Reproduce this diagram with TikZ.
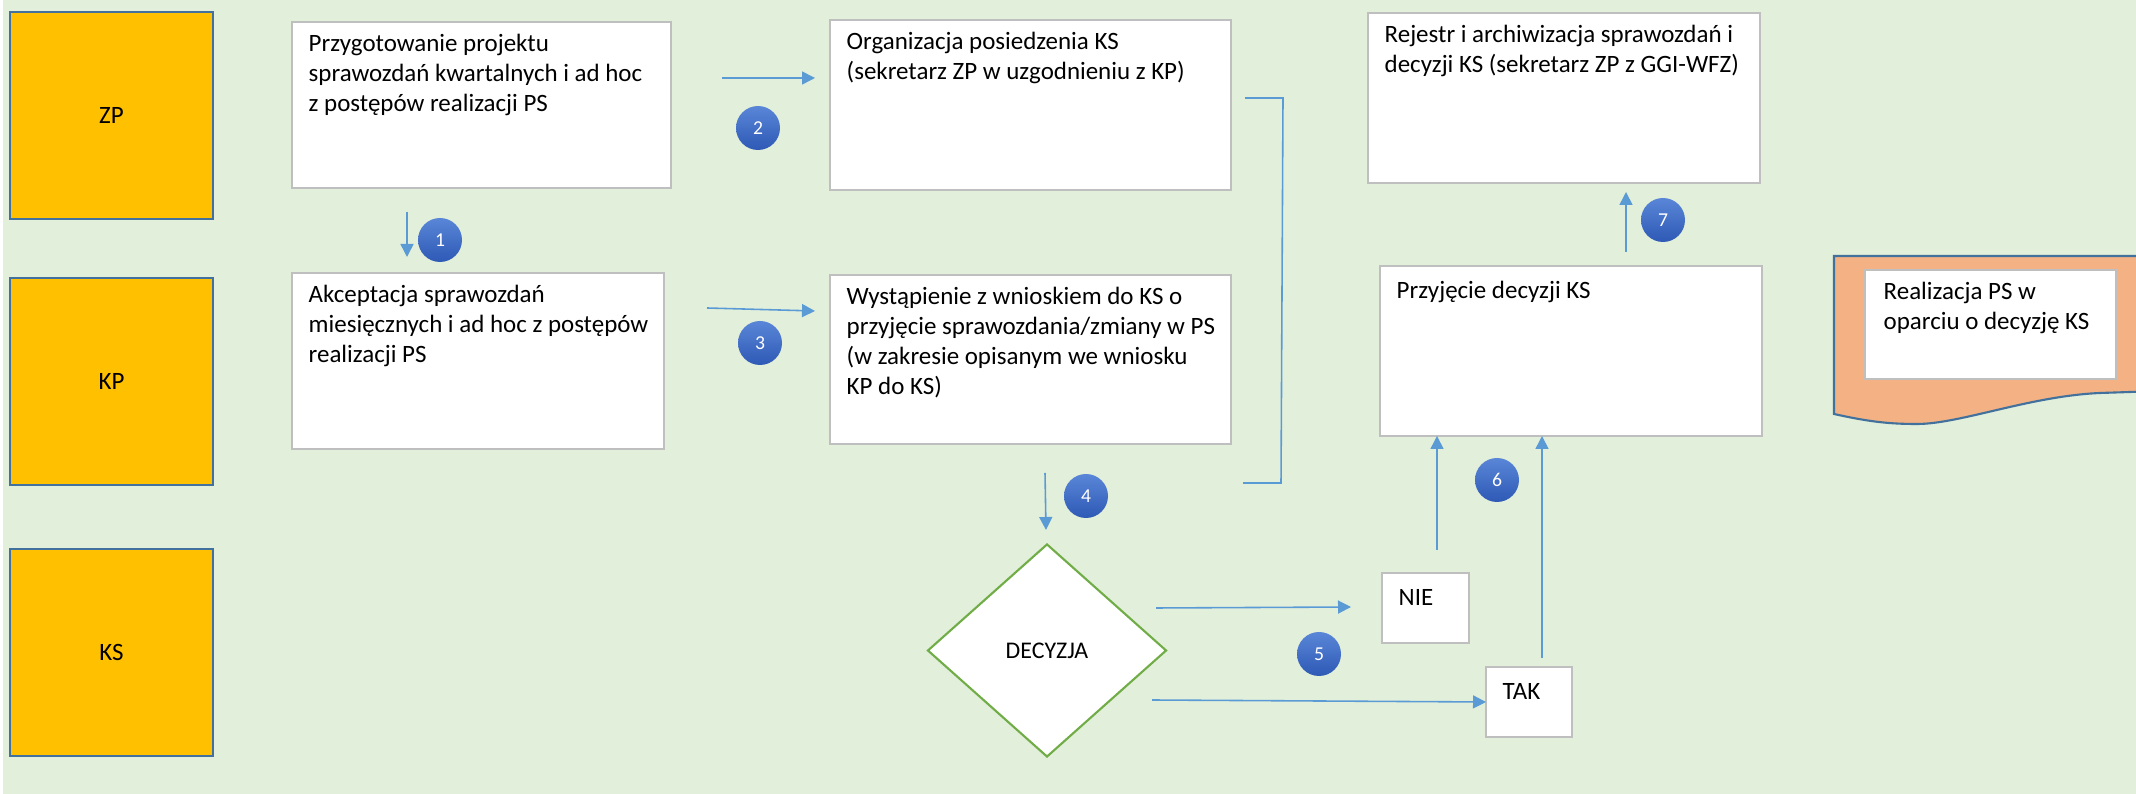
\documentclass[tikz,border=0pt]{standalone}
\usepackage{fontspec}
\setmainfont{Carlito}
\usepackage{tikz}
\usetikzlibrary{arrows.meta,positioning,shapes.geometric}
\definecolor{lanebg}{HTML}{E2EFDA}
\definecolor{lanefill}{HTML}{FFC000}
\definecolor{laneline}{HTML}{41719C}
\definecolor{boxline}{HTML}{BFBFBF}
\definecolor{flowblue}{HTML}{5B9BD5}
\definecolor{badgetop}{HTML}{5A86D8}
\definecolor{badgebot}{HTML}{2E59B5}
\definecolor{decline}{HTML}{70AD47}
\definecolor{docfill}{HTML}{F4B183}
\tikzset{
  lanebox/.style={
    rectangle, draw=laneline, line width=0.6pt, fill=lanefill,
    minimum width=2.03cm, minimum height=2.07cm, inner sep=0pt,
    font=\fontsize{7.1}{8.6}\selectfont
  },
  stepbox/.style={
    rectangle, draw=boxline, line width=0.6pt, fill=white,
    inner sep=0pt, outer sep=0pt
  },
  steptext/.style={
    inner sep=0pt, align=left, execute at begin node=\strut,
    font=\fontsize{7.1}{8.6}\selectfont
  },
  decision/.style={
    diamond, draw=decline, line width=0.6pt, fill=white, inner sep=0pt,
    minimum width=2.39cm, minimum height=2.13cm,
    font=\fontsize{6.8}{8}\selectfont
  },
  flowarrow/.style={-{Triangle[length=1.3mm,width=1.3mm]}, line width=0.45pt, color=flowblue},
  flowline/.style={line width=0.45pt, color=flowblue},
  badge/.style={
    circle, minimum size=0.44cm, inner sep=0pt,
    top color=badgetop, bottom color=badgebot,
    text=white, font=\fontsize{5.6}{6}\selectfont
  },
}
\begin{document}
\begin{tikzpicture}
  \useasboundingbox (0,0) rectangle (21.36,7.94);
  \fill[lanebg] (0.03,0) rectangle (21.36,7.94);

  \node[lanebox] (zp) at (1.115,6.785) {ZP};
  \node[lanebox] (kp) at (1.115,4.125) {KP};
  \node[lanebox] (ks) at (1.115,1.415) {KS};

  \node[stepbox, minimum width=3.79cm, minimum height=1.66cm] (prep) at (4.815,6.89) {};
  \node[stepbox, minimum width=3.72cm, minimum height=1.76cm] (accept) at (4.78,4.33) {};
  \node[stepbox, minimum width=4.01cm, minimum height=1.70cm] (meet) at (10.305,6.89) {};
  \node[stepbox, minimum width=4.01cm, minimum height=1.69cm] (motion) at (10.305,4.345) {};
  \node[stepbox, minimum width=3.92cm, minimum height=1.70cm] (archive) at (15.64,6.96) {};
  \node[stepbox, minimum width=3.82cm, minimum height=1.70cm] (adopt) at (15.71,4.43) {};
  \node[stepbox, minimum width=0.87cm, minimum height=0.70cm] (nie) at (14.255,1.86) {};
  \node[stepbox, minimum width=0.86cm, minimum height=0.70cm] (tak) at (15.29,0.92) {};
  \node[decision] (dec) at (10.47,1.435) {DECYZJA};

  \draw[draw=laneline, line width=0.6pt, fill=docfill]
    (18.34,5.38) -- (21.6,5.38) -- (21.6,4.03) -- (21.0,4.01)
    .. controls (20.3,3.98) and (19.6,3.70) .. (19.17,3.70)
    .. controls (18.9,3.70) and (18.7,3.72) .. (18.34,3.80) -- cycle;
  \node[stepbox, minimum width=2.51cm, minimum height=1.09cm] (exec) at (19.905,4.695) {};

  \node[steptext, below right=0.11cm and 0.16cm of prep.north west] (prepT)
    {Przygotowanie projektu\\sprawozdań kwartalnych i ad hoc\\z postępów realizacji PS};
  \node[steptext, below right=0.11cm and 0.16cm of accept.north west] (acceptT)
    {Akceptacja sprawozdań\\miesięcznych i ad hoc z postępów\\realizacji PS};
  \node[steptext, below right=0.11cm and 0.16cm of meet.north west] (meetT)
    {Organizacja posiedzenia KS\\(sekretarz ZP w uzgodnieniu z KP)};
  \node[steptext, below right=0.11cm and 0.16cm of motion.north west] (motionT)
    {Wystąpienie z wnioskiem do KS o\\przyjęcie sprawozdania/zmiany w PS\\(w zakresie opisanym we wniosku\\KP do KS)};
  \node[steptext, below right=0.11cm and 0.16cm of archive.north west] (archiveT)
    {Rejestr i archiwizacja sprawozdań i\\decyzji KS (sekretarz ZP z GGI-WFZ)};
  \node[steptext, below right=0.11cm and 0.16cm of adopt.north west] (adoptT)
    {Przyjęcie decyzji KS};
  \node[steptext, below right=0.11cm and 0.16cm of nie.north west] (nieT) {NIE};
  \node[steptext, below right=0.11cm and 0.16cm of tak.north west] (takT) {TAK};
  \node[steptext, below right=0.11cm and 0.18cm of exec.north west] (execT)
    {Realizacja PS w\\oparciu o decyzję KS};

  \coordinate (p1a) at (4.07,5.82);   \coordinate (p1b) at (4.07,5.37);
  \coordinate (p2a) at (7.22,7.16);   \coordinate (p2b) at (8.15,7.16);
  \coordinate (p3a) at (7.07,4.86);   \coordinate (p3b) at (8.15,4.83);
  \coordinate (p4a) at (10.45,3.21);  \coordinate (p4b) at (10.46,2.64);
  \coordinate (p5a) at (11.56,1.86);  \coordinate (p5b) at (13.51,1.87);
  \coordinate (p5c) at (11.52,0.94);
  \coordinate (p6a) at (14.37,2.44);  \coordinate (p6b) at (adopt.south -| p6a);
  \coordinate (p6c) at (15.42,1.36);  \coordinate (p6d) at (adopt.south -| p6c);
  \coordinate (p7a) at (16.26,5.42);  \coordinate (p7b) at (16.26,6.02);
  \foreach \a/\b in {p1a/p1b,p2a/p2b,p3a/p3b,p4a/p4b,p5a/p5b,p5c/tak.west,p6a/p6b,p6c/p6d,p7a/p7b}
    \draw[flowarrow] (\a) -- (\b);

  \coordinate (brA) at (12.45,6.96);  \coordinate (brB) at (12.43,3.11);
  \draw[flowline] (brA) -- (12.83,6.96) -- (12.81,3.11) -- (brB);

  \foreach \n/\x/\y in {1/4.40/5.54,2/7.58/6.66,3/7.60/4.51,4/10.86/2.98,5/13.19/1.40,6/14.97/3.14,7/16.63/5.74}
    \node[badge] (badge\n) at (\x,\y) {\n};
\end{tikzpicture}
\end{document}
